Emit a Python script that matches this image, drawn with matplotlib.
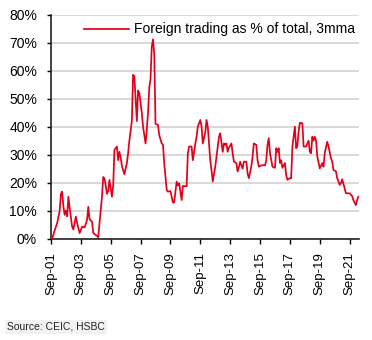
import matplotlib
matplotlib.use("Agg")
import matplotlib.pyplot as plt
from matplotlib.ticker import FuncFormatter, FixedLocator

plt.rcParams['font.family'] = ['Liberation Sans', 'DejaVu Sans']

# Months elapsed since Sep-2001 and foreign share of turnover (%, 3mma)
month_idx = [0, 1, 3, 5, 7, 8, 9, 10, 11, 12, 13, 14, 15, 17, 18, 20, 21, 23, 25, 27,
             29, 30, 31, 33, 34, 37, 38, 39, 41, 42, 43, 44, 45, 46, 47, 49, 50, 51, 53, 54,
             55, 56, 57, 58, 59, 61, 62, 63, 65, 66, 67, 69, 70, 71, 73, 74, 75, 76, 77, 78,
             79, 80, 81, 82, 83, 84, 86, 87, 89, 90, 91, 93, 94, 96, 98, 99, 101, 102, 103, 105,
             106, 109, 110, 111, 113, 114, 116, 117, 118, 120, 121, 122, 124, 125, 126, 128, 129, 130, 132, 133,
             135, 136, 138, 139, 140, 141, 142, 143, 145, 146, 147, 149, 150, 151, 152, 154, 155, 157, 158, 159,
             161, 162, 163, 165, 166, 167, 169, 170, 172, 173, 174, 175, 176, 178, 180, 181, 182, 183, 184, 185,
             186, 188, 189, 190, 192, 193, 194, 196, 197, 198, 199, 200, 202, 203, 205, 207, 208, 209, 210, 211,
             212, 213, 214, 216, 218, 219, 220, 222, 223, 225, 226, 227, 229, 230, 232, 233, 234, 236, 237, 240,
             242, 243, 245, 246, 247]
foreign_share = [1.3, 0.0, 3.0, 5.6, 10.0, 16.0, 16.8, 11.4, 8.5, 10.0, 8.0, 15.0, 11.0, 4.3, 3.3, 7.9, 5.6, 2.0, 4.3, 4.0,
                 6.7, 11.4, 7.0, 6.0, 2.0, 1.0, 0.5, 5.6, 15.0, 22.0, 21.5, 19.0, 16.0, 17.0, 21.0, 15.0, 19.0, 31.7, 32.9, 28.0,
                 31.0, 29.0, 26.0, 24.5, 23.0, 27.0, 30.6, 35.0, 42.0, 58.5, 58.0, 42.0, 52.9, 52.0, 45.0, 40.0, 37.0, 34.0, 39.0, 45.0,
                 54.0, 57.0, 68.6, 71.2, 66.0, 41.0, 40.6, 37.0, 34.0, 33.6, 27.0, 17.4, 16.8, 17.0, 12.9, 13.0, 20.4, 19.0, 19.8, 13.8,
                 18.8, 18.7, 30.5, 32.9, 32.9, 28.0, 34.0, 36.4, 40.0, 42.4, 40.0, 34.0, 38.0, 42.4, 40.0, 28.0, 24.5, 20.4, 25.7, 29.3,
                 36.4, 37.6, 31.0, 34.0, 33.5, 34.0, 31.0, 32.5, 34.0, 30.5, 27.5, 27.0, 24.0, 25.5, 27.5, 25.0, 27.5, 27.5, 23.3, 21.6,
                 25.8, 29.3, 34.0, 33.5, 28.0, 25.7, 26.2, 26.2, 26.2, 28.0, 33.5, 35.9, 30.5, 25.7, 25.3, 32.3, 31.0, 32.3, 27.0, 28.0,
                 25.3, 27.0, 22.7, 21.0, 21.6, 21.5, 32.9, 40.0, 32.3, 33.0, 38.2, 41.4, 41.2, 32.9, 32.9, 35.0, 31.0, 30.5, 36.4, 35.0,
                 36.4, 35.0, 29.3, 25.1, 27.0, 25.7, 30.6, 34.6, 33.0, 28.7, 27.5, 24.5, 24.0, 21.6, 19.2, 19.8, 21.2, 18.0, 16.2, 16.2,
                 15.2, 13.8, 12.0, 13.8, 15.0]

tick_months = [0, 24, 48, 72, 96, 120, 144, 168, 192, 216, 240]
tick_labels = ["Sep-01", "Sep-03", "Sep-05", "Sep-07", "Sep-09", "Sep-11",
               "Sep-13", "Sep-15", "Sep-17", "Sep-19", "Sep-21"]
y_ticks = [0, 10, 20, 30, 40, 50, 60, 70, 80]

series_label = "Foreign trading as % of total, 3mma"
red = "#e0001b"

fig = plt.figure(figsize=(3.72, 3.40), dpi=100)
ax = fig.add_axes([0.137, 0.298, 0.828, 0.659])

ax.plot(month_idx, foreign_share, color=red, lw=1.25, label=series_label, zorder=3)

ax.set_xlim(0, 247.5)
ax.set_ylim(0, 80)
ax.xaxis.set_major_locator(FixedLocator(tick_months))
ax.set_xticklabels(tick_labels, rotation=90, fontsize=9.5)
ax.set_yticks(y_ticks)
ax.yaxis.set_major_formatter(FuncFormatter(lambda v, _: f"{v:.0f}%"))
ax.tick_params(axis='y', labelsize=10, length=3, width=1, pad=7, direction='out')
ax.tick_params(axis='x', length=3.5, width=1, pad=6, direction='out')

ax.grid(axis='y', color='#d9d9d9', lw=1.4, zorder=0)
ax.set_axisbelow(True)
for side in ('top', 'right'):
    ax.spines[side].set_visible(False)
for side in ('left', 'bottom'):
    ax.spines[side].set_linewidth(1.2)
    ax.spines[side].set_color('#222222')

leg = ax.legend(loc='upper left', bbox_to_anchor=(0.09, 0.99), frameon=False,
                fontsize=10, handlelength=3.2, handletextpad=0.4, borderaxespad=0)

fig.text(0.018, 0.03, "Source: CEIC, HSBC", fontsize=7.5, color='#222222',
         bbox=dict(facecolor='#f2f2f2', edgecolor='none', pad=1.5))

fig.savefig("out.png", dpi=100)
